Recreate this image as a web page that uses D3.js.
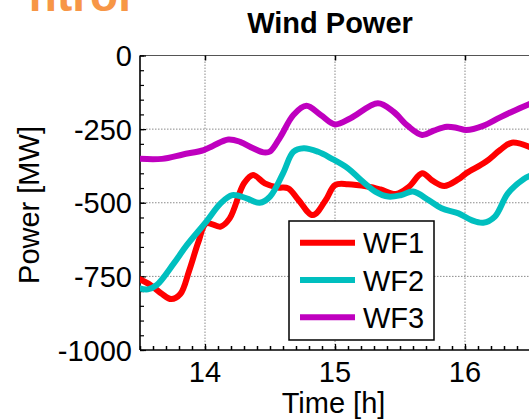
<!DOCTYPE html>
<html>
<head>
<meta charset="utf-8">
<script src="https://cdn.jsdelivr.net/npm/d3@7/dist/d3.min.js"></script>
<style>
  html, body { margin: 0; padding: 0; background: #fff; }
  svg { display: block; }
  text { font-family: Arial, "Liberation Sans", sans-serif; }
</style>
</head>
<body>
<svg id="chart" width="529" height="420"></svg>
<script>
// ---- data ----
const titleText = "Wind Power";
const xLabel = "Time [h]";
const yLabel = "Power [MW]";
const xTicks = [14, 15, 16];
const yTicks = [0, -250, -500, -750, -1000];
const seriesNames = ["WF1", "WF2", "WF3"];
const seriesColors = ["#FF0000", "#00BFBF", "#BF00BF"];

const wf1 = [
  [13.5,-760],[13.58,-779],[13.67,-810],[13.74,-827],[13.81,-810],[13.88,-728],
  [13.95,-632],[14.01,-570],[14.12,-581],[14.19,-553],[14.3,-434],[14.37,-406],
  [14.46,-434],[14.56,-448],[14.64,-451],[14.72,-491],[14.83,-542],[14.93,-490],
  [15.0,-440],[15.1,-437],[15.25,-445],[15.35,-455],[15.47,-470],[15.57,-445],
  [15.67,-400],[15.75,-425],[15.84,-443],[15.95,-420],[16.01,-400],[16.16,-361],
  [16.27,-321],[16.36,-296],[16.52,-315]
];
const wf2 = [
  [13.5,-791],[13.56,-794],[13.63,-779],[13.76,-706],[13.86,-644],[14.01,-564],
  [14.12,-502],[14.21,-474],[14.32,-485],[14.42,-500],[14.5,-479],[14.6,-400],
  [14.68,-327],[14.76,-315],[14.87,-327],[14.97,-349],[15.1,-383],[15.2,-423],
  [15.31,-462],[15.41,-479],[15.51,-474],[15.6,-462],[15.72,-491],[15.82,-519],
  [15.95,-536],[16.05,-559],[16.14,-568],[16.23,-547],[16.33,-468],[16.45,-420],
  [16.52,-405]
];
const wf3 = [
  [13.5,-351],[13.67,-351],[13.83,-336],[13.99,-321],[14.06,-307],[14.18,-285],
  [14.27,-293],[14.37,-315],[14.45,-329],[14.5,-326],[14.58,-276],[14.68,-202],
  [14.78,-171],[14.89,-202],[15.0,-234],[15.12,-213],[15.33,-162],[15.45,-191],
  [15.56,-239],[15.67,-270],[15.76,-255],[15.86,-242],[15.94,-246],[16.01,-253],
  [16.14,-239],[16.27,-210],[16.4,-183],[16.52,-160]
];
const seriesData = [wf1, wf2, wf3];

// ---- layout ----
const svg = d3.select("#chart");
const pL = 140, pT = 55.5, pB = 350;
const x = d3.scaleLinear().domain([13.5, 17]).range([pL, pL + 130 * 3.5]);
const y = d3.scaleLinear().domain([-1000, 0]).range([pB, pT]);
const pR = x(17);

// orange fragment of slide title at top
svg.append("text")
  .attr("x", 131).attr("y", 11)
  .attr("text-anchor", "end")
  .attr("font-size", 46).attr("font-weight", "bold")
  .attr("fill", "#F79646")
  .text("ntrol");

// clip
svg.append("clipPath").attr("id", "plotclip")
  .append("rect").attr("x", pL).attr("y", pT - 4)
  .attr("width", pR - pL).attr("height", pB - pT + 8);

// grid
const grid = svg.append("g");
grid.selectAll("line.gx").data(xTicks).join("line")
  .attr("x1", d => x(d)).attr("x2", d => x(d))
  .attr("y1", pT).attr("y2", pB)
  .attr("stroke", "#8a8a8a").attr("stroke-width", 1)
  .attr("stroke-dasharray", "1.5,1.5");
grid.selectAll("line.gy").data(yTicks.filter(d => d !== 0 && d !== -1000)).join("line")
  .attr("x1", pL).attr("x2", pR)
  .attr("y1", d => y(d)).attr("y2", d => y(d))
  .attr("stroke", "#8a8a8a").attr("stroke-width", 1)
  .attr("stroke-dasharray", "1.5,1.5");

// top border
svg.append("line").attr("x1", pL).attr("x2", pR)
  .attr("y1", pT).attr("y2", pT)
  .attr("stroke", "#555").attr("stroke-width", 1);

// axes with d3 axis generators (ticks inward)
const yMinor = d3.range(0, -1001, -50);
const xMinor = d3.range(13.5, 17.001, 0.1).map(v => +v.toFixed(2));

const yAxis = d3.axisRight(y).tickValues(yMinor).tickSize(4).tickFormat("");
const gY = svg.append("g").attr("transform", `translate(${pL},0)`).call(yAxis);
gY.select(".domain").remove();
gY.selectAll(".tick line").attr("stroke", "#000").attr("stroke-width", 1.2);

const yAxisMaj = d3.axisRight(y).tickValues(yTicks).tickSize(6).tickFormat("");
const gYm = svg.append("g").attr("transform", `translate(${pL},0)`).call(yAxisMaj);
gYm.select(".domain").remove();
gYm.selectAll(".tick line").attr("stroke", "#000").attr("stroke-width", 1.2);

const xAxis = d3.axisTop(x).tickValues(xMinor).tickSize(4).tickFormat("");
const gX = svg.append("g").attr("transform", `translate(0,${pB})`).call(xAxis);
gX.select(".domain").remove();
gX.selectAll(".tick line").attr("stroke", "#000").attr("stroke-width", 1.5);

const xAxisMaj = d3.axisTop(x).tickValues(xTicks).tickSize(6).tickFormat("");
const gXm = svg.append("g").attr("transform", `translate(0,${pB})`).call(xAxisMaj);
gXm.select(".domain").remove();
gXm.selectAll(".tick line").attr("stroke", "#000").attr("stroke-width", 1.2);

const xAxisTop = d3.axisBottom(x).tickValues(xTicks).tickSize(5).tickFormat("");
const gXt = svg.append("g").attr("transform", `translate(0,${pT})`).call(xAxisTop);
gXt.select(".domain").remove();
gXt.selectAll(".tick line").attr("stroke", "#000").attr("stroke-width", 1.5);

// axis lines
svg.append("line").attr("x1", pL).attr("x2", pL).attr("y1", pT).attr("y2", pB)
  .attr("stroke", "#000").attr("stroke-width", 1.6);
svg.append("line").attr("x1", pL).attr("x2", pR).attr("y1", pB).attr("y2", pB)
  .attr("stroke", "#000").attr("stroke-width", 1.6);

// tick labels
svg.selectAll("text.yl").data(yTicks).join("text")
  .attr("x", 132).attr("y", d => y(d) + 10.5)
  .attr("text-anchor", "end").attr("font-size", 29).attr("fill", "#000")
  .text(d => d);
svg.selectAll("text.xl").data(xTicks).join("text")
  .attr("x", d => x(d)).attr("y", 381.5)
  .attr("text-anchor", "middle").attr("font-size", 29).attr("fill", "#000")
  .text(d => d);

// axis labels and title
svg.append("text").attr("x", 333.5).attr("y", 413)
  .attr("text-anchor", "middle").attr("font-size", 29).text(xLabel);
svg.append("text").attr("transform", "translate(39,205) rotate(-90)")
  .attr("text-anchor", "middle").attr("font-size", 29).text(yLabel);
svg.append("text").attr("x", 330).attr("y", 33)
  .attr("text-anchor", "middle").attr("font-size", 29).attr("font-weight", "bold")
  .text(titleText);

// lines
const line = d3.line().x(d => x(d[0])).y(d => y(d[1])).curve(d3.curveCatmullRom.alpha(0.5));
svg.append("g").attr("clip-path", "url(#plotclip)")
  .selectAll("path").data(seriesData).join("path")
  .attr("d", line)
  .attr("fill", "none")
  .attr("stroke", (d, i) => seriesColors[i])
  .attr("stroke-width", 6)
  .attr("stroke-linejoin", "round")
  .attr("stroke-linecap", "round");

// legend
const lg = svg.append("g");
lg.append("rect").attr("x", 289).attr("y", 221).attr("width", 145).attr("height", 119)
  .attr("fill", "#fff").attr("stroke", "#000").attr("stroke-width", 1.5);
const legY = [242.7, 280, 317.3];
seriesNames.forEach((name, i) => {
  lg.append("line").attr("x1", 300).attr("x2", 355)
    .attr("y1", legY[i]).attr("y2", legY[i])
    .attr("stroke", seriesColors[i]).attr("stroke-width", 6);
  lg.append("text").attr("x", 363).attr("y", legY[i] + 10.5)
    .attr("font-size", 29).attr("fill", "#000").text(name);
});
</script>
</body>
</html>
